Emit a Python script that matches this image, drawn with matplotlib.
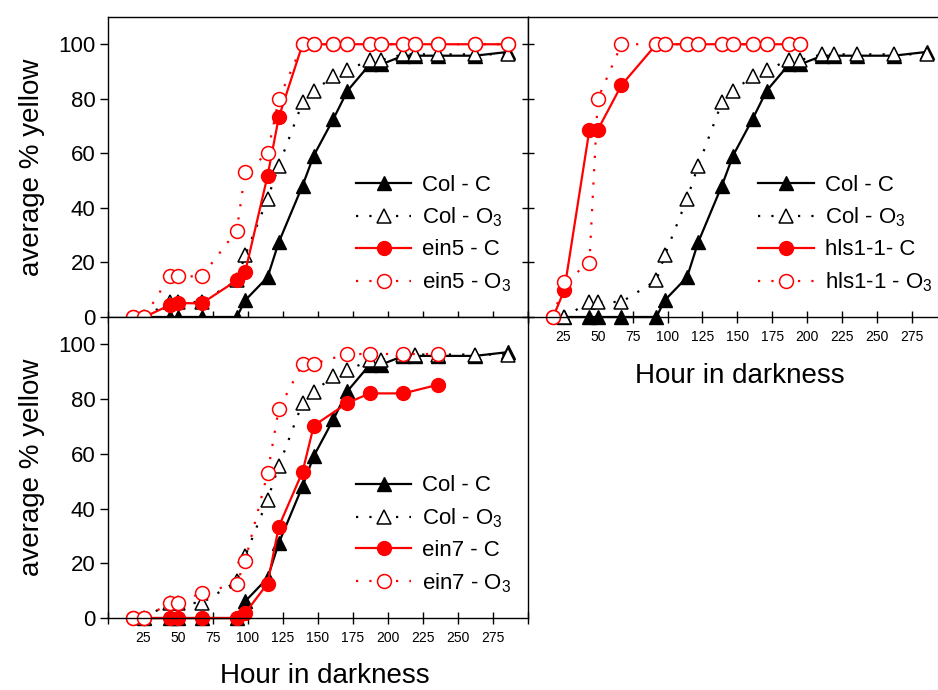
import matplotlib
matplotlib.use("Agg")
import matplotlib.pyplot as plt

plt.rcParams['font.family'] = ['Liberation Sans', 'DejaVu Sans']
plt.rcParams['mathtext.fontset'] = 'custom'
plt.rcParams['mathtext.rm'] = 'Liberation Sans'
plt.rcParams['mathtext.it'] = 'Liberation Sans:italic'

# Hours in darkness and average % yellow
col_t = [26, 44, 50, 67, 92, 98, 114, 122, 139, 147, 161, 171, 187, 195, 211, 219, 236, 262, 286]
col_c = [0, 0, 0, 0, 0, 6.1, 14.6, 27.4, 48.2, 59.2, 72.6, 82.9, 92.6, 92.6, 95.8, 95.8, 95.8, 95.8, 97.2]
col_o3 = [0, 5.5, 5.5, 5.5, 13.4, 22.6, 43.3, 55.5, 78.7, 82.7, 88.4, 90.5, 94.2, 94.2, 96.3, 96.3, 96.3, 96.3, 96.3]

ein5_t = [18, 26, 44, 50, 67, 92, 98, 114, 122, 139, 147, 161, 171, 187, 195, 211, 219, 236, 262, 286]
ein5_c = [0, 0, 4.3, 5.1, 5.0, 13.4, 16.5, 51.8, 73.2, 100, 100, 100, 100, 100, 100, 100, 100, 100, 100, 100]
ein5_o3 = [0, 0, 14.9, 14.9, 14.9, 31.7, 53.1, 60.0, 79.9, 100, 100, 100, 100, 100, 100, 100, 100, 100, 100, 100]

hls_t = [18, 26, 44, 50, 67, 92, 98, 114, 122, 139, 147, 161, 171, 187, 195]
hls_c = [0, 9.8, 68.6, 68.6, 85.0, 100, 100, 100, 100, 100, 100, 100, 100, 100, 100]
hls_o3 = [0, 12.8, 19.8, 79.9, 100, 100, 100, 100, 100, 100, 100, 100, 100, 100, 100]

ein7_t = [18, 26, 44, 50, 67, 92, 98, 114, 122, 139, 147, 171, 187, 211, 236]
ein7_c = [0, 0, 0, 0, 0, 0, 1.8, 12.6, 33.4, 53.5, 70.3, 78.6, 82.1, 82.1, 85.3]
ein7_o3 = [0, 0, 5.5, 5.5, 9.2, 12.6, 20.9, 52.9, 76.4, 92.9, 92.9, 96.5, 96.5, 96.5, 96.5]

x_ticks = list(range(0, 301, 25))
x_labels = ['' if (t == 0 or t == 300) else str(t) for t in x_ticks]
y_ticks = [0, 20, 40, 60, 80, 100]

dots = (0, (1, 5))


def draw_panel(ax, mut_t, mut_c, mut_o3, name_c, name_o3, leg_x):
    ax.plot(col_t, col_c, color='black', lw=1.6, marker='^', ms=10,
            mfc='black', mec='black', clip_on=False, label='Col - C')
    ax.plot(col_t, col_o3, color='black', lw=1.6, ls=dots, marker='^', ms=10,
            mfc='white', mec='black', mew=1.1, clip_on=False, label='Col - O$_3$')
    ax.plot(mut_t, mut_c, color='red', lw=1.6, marker='o', ms=10,
            mfc='red', mec='red', clip_on=False, label=name_c)
    ax.plot(mut_t, mut_o3, color='red', lw=1.6, ls=dots, marker='o', ms=10,
            mfc='white', mec='red', mew=1.1, clip_on=False, label=name_o3)
    ax.set_xlim(0, 300)
    ax.set_ylim(0, 110)
    ax.set_xticks(x_ticks)
    ax.set_yticks(y_ticks)
    for s in ax.spines.values():
        s.set_linewidth(1.0)
    ax.tick_params(axis='x', direction='inout', length=9, width=1, labelsize=10, pad=5)
    ax.tick_params(axis='y', direction='out', length=6, width=1, labelsize=16, pad=3)
    ax.legend(loc='upper left', bbox_to_anchor=(leg_x, 0.474), frameon=False,
              fontsize=16, handlelength=2.5, handletextpad=0.5,
              labelspacing=0.45, borderpad=0, borderaxespad=0, numpoints=1)


fig = plt.figure(figsize=(9.38, 6.90), dpi=100)

ax1 = fig.add_axes([0.1151, 0.5406, 0.4478, 0.4348])
ax3 = fig.add_axes([0.1151, 0.1043, 0.4478, 0.4362])
ax2 = fig.add_axes([0.5629, 0.5406, 0.4462, 0.4348])

draw_panel(ax1, ein5_t, ein5_c, ein5_o3, 'ein5 - C', 'ein5 - O$_3$', 0.59)
ax1.set_xticklabels([])
ax1.set_ylabel('average % yellow', fontsize=20)
ax1.yaxis.set_label_coords(-0.15, 0.5)

draw_panel(ax3, ein7_t, ein7_c, ein7_o3, 'ein7 - C', 'ein7 - O$_3$', 0.59)
ax3.set_xticklabels(x_labels)
ax3.set_ylabel('average % yellow', fontsize=20)
ax3.yaxis.set_label_coords(-0.15, 0.5)
ax3.set_xlabel('Hour in darkness', fontsize=20)
ax3.xaxis.set_label_coords(0.517, -0.15)

draw_panel(ax2, hls_t, hls_c, hls_o3, 'hls1-1- C', 'hls1-1 - O$_3$', 0.55)
ax2.set_xticklabels(x_labels)
ax2.set_yticklabels([])
ax2.tick_params(axis='y', direction='inout', length=8)
ax2.spines['right'].set_visible(False)
ax2.set_xlabel('Hour in darkness', fontsize=20)
ax2.xaxis.set_label_coords(0.507, -0.155)

fig.savefig('out.png', dpi=100)
